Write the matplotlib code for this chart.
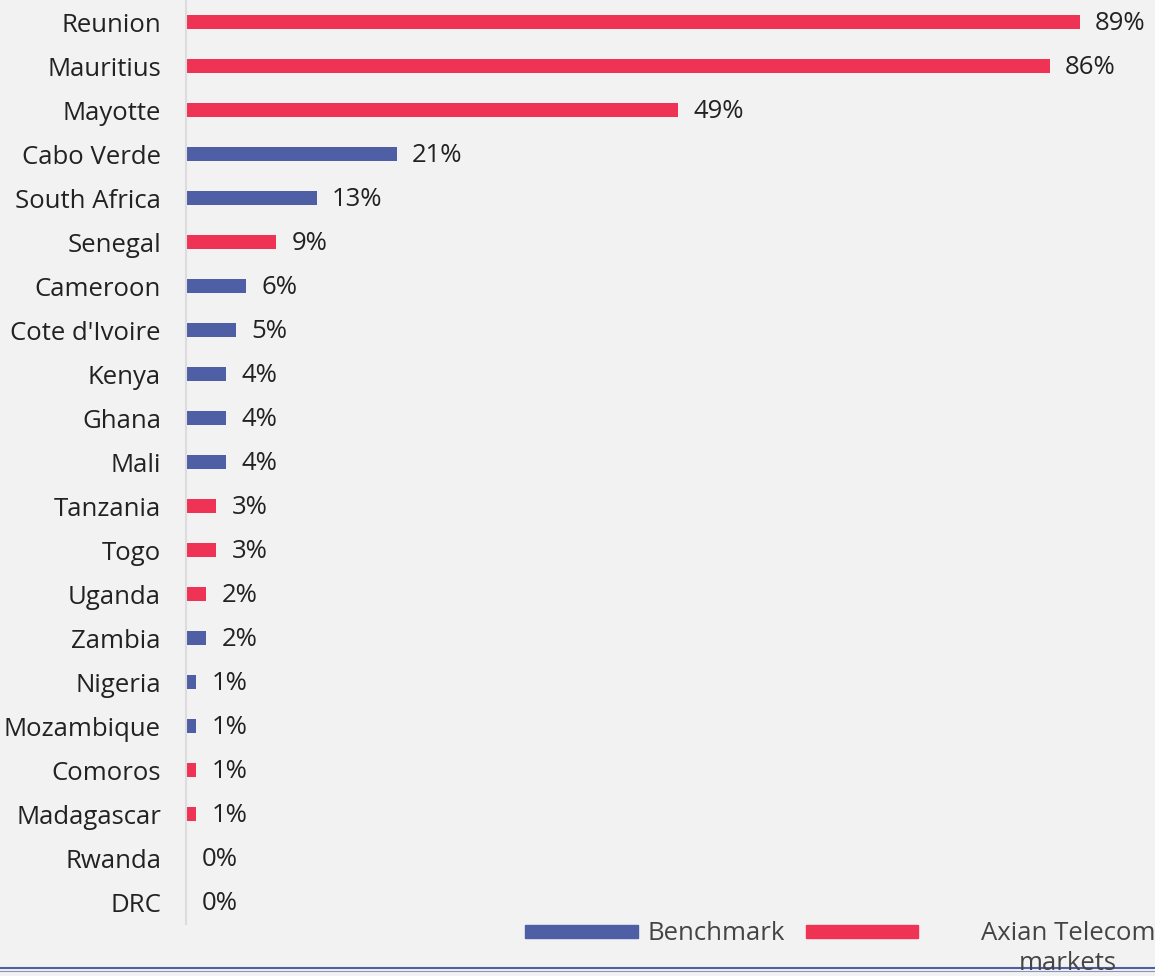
import matplotlib.pyplot as plt
from matplotlib.patches import Rectangle
from matplotlib.lines import Line2D

countries = ["Reunion", "Mauritius", "Mayotte", "Cabo Verde", "South Africa", "Senegal",
             "Cameroon", "Cote d'Ivoire", "Kenya", "Ghana", "Mali", "Tanzania", "Togo",
             "Uganda", "Zambia", "Nigeria", "Mozambique", "Comoros", "Madagascar",
             "Rwanda", "DRC"]
values = [89, 86, 49, 21, 13, 9, 6, 5, 4, 4, 4, 3, 3, 2, 2, 1, 1, 1, 1, 0, 0]
group = ["A", "A", "A", "B", "B", "A", "B", "B", "B", "B", "B", "A", "A", "A", "B",
         "B", "B", "A", "A", "A", "B"]

RED = "#ee3354"
BLUE = "#4f5fa5"
BG = "#f2f2f2"
TXT = "#222222"
FS = 18.5

plt.rcParams['font.family'] = ['Open Sans', 'DejaVu Sans']

fig = plt.figure(figsize=(11.55, 9.76), dpi=100, facecolor=BG)
ax = fig.add_axes([186 / 1155, 1 - 924 / 976, 1 - 186 / 1155, 924 / 976])
ax.set_facecolor(BG)

colors = [RED if g == "A" else BLUE for g in group]
y = range(len(countries))
ax.barh(y, values, height=0.32, color=colors)
ax.set_ylim(len(countries) - 0.5, -0.5)
ax.set_xlim(0, 96.5)
ax.set_yticks(list(y))
ax.set_yticklabels(countries, fontsize=FS, color=TXT)
ax.tick_params(axis='y', length=0, pad=18)
ax.set_xticks([])
for s in ["top", "right", "bottom"]:
    ax.spines[s].set_visible(False)
ax.spines["left"].set_color("#dcdcdc")
ax.spines["left"].set_linewidth(1.5)

for i, v in enumerate(values):
    ax.annotate(f"{v}%", (v, i), xytext=(11, -1), textcoords="offset points",
                va="center", ha="left", fontsize=FS, color=TXT)

# legend drawn by hand
W, H = 1155, 976
fig.patches.append(Rectangle((525 / W, 1 - 938 / H), 113 / W, 13 / H,
                             transform=fig.transFigure, color=BLUE))
fig.text(648 / W, 1 - 933 / H, "Benchmark", fontsize=FS, color="#444444", va="center")
fig.patches.append(Rectangle((806 / W, 1 - 938 / H), 112 / W, 13 / H,
                             transform=fig.transFigure, color=RED))
fig.text(1068 / W, 1 - 933 / H, "Axian Telecom", fontsize=FS, color="#444444",
         va="center", ha="center")
fig.text(1068 / W, 1 - 964 / H, "markets", fontsize=FS, color="#444444",
         va="center", ha="center")

fig.add_artist(Line2D([0, 1], [1 - 968 / H] * 2, transform=fig.transFigure, color=BLUE, lw=1.5))
fig.add_artist(Line2D([0, 1], [1 - 971 / H] * 2, transform=fig.transFigure, color="#8a94c4", lw=0.8))

fig.savefig("out.png", dpi=100, facecolor=BG)
